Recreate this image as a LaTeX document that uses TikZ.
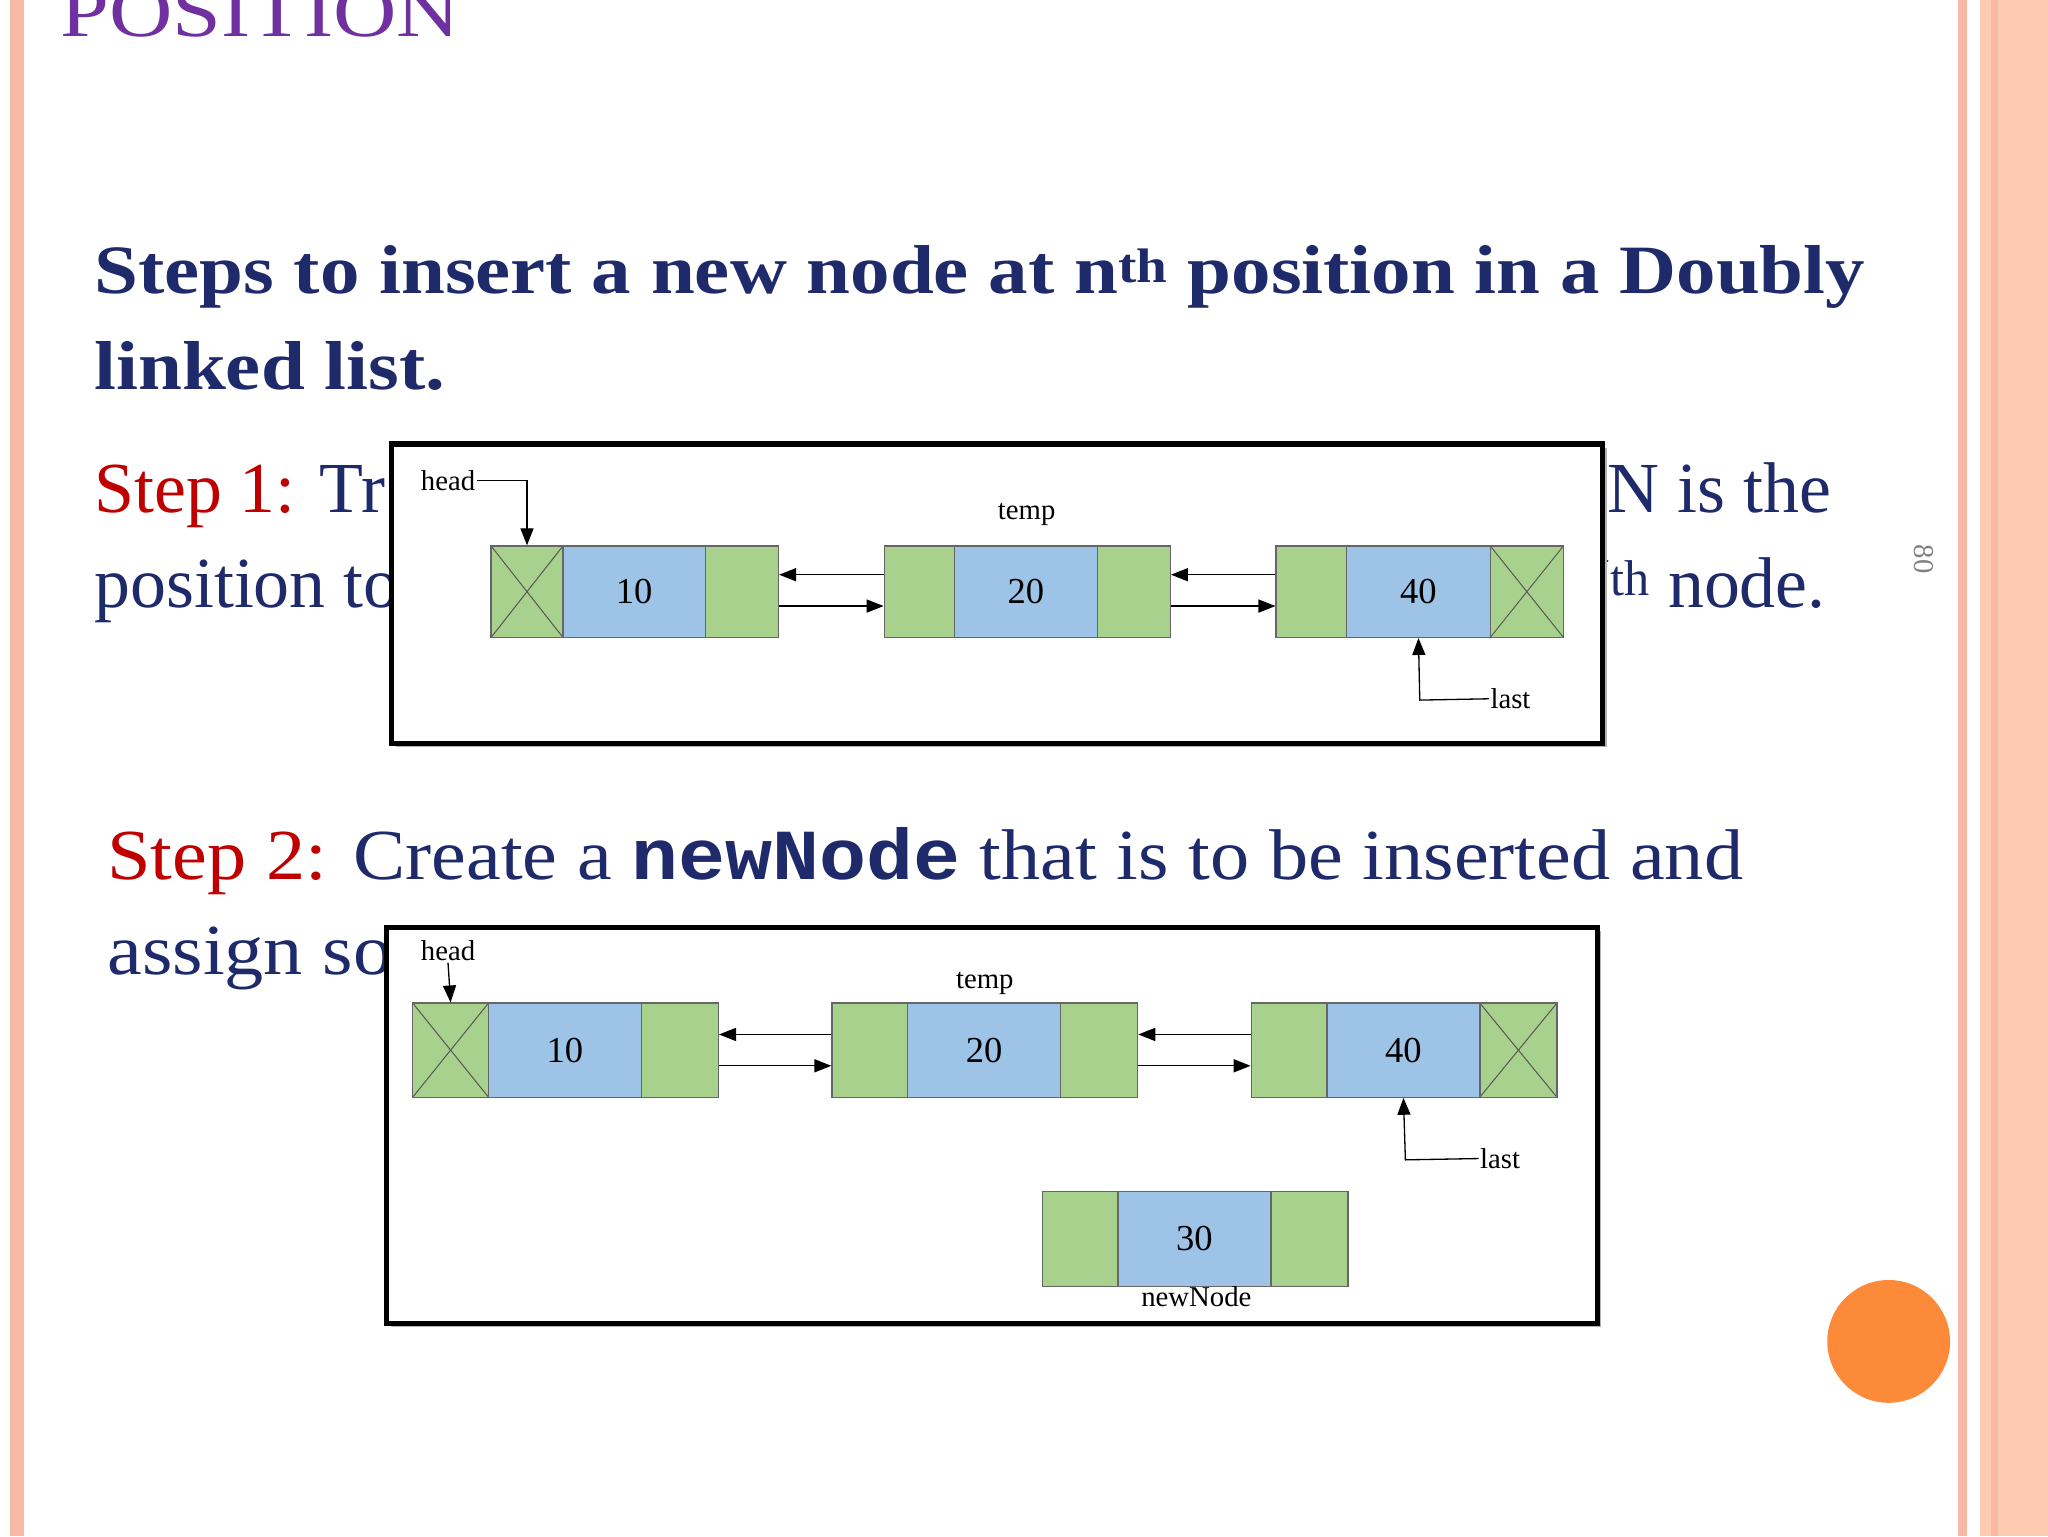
\documentclass[tikz,border=0pt]{standalone}
\usepackage{fontspec}
\setmainfont{Liberation Serif}
\setmonofont{Liberation Mono}
\usetikzlibrary{arrows.meta}
\definecolor{navy}{HTML}{1F2A6B}
\definecolor{redt}{HTML}{C00000}
\definecolor{purp}{HTML}{7030A0}
\definecolor{cg}{HTML}{A9D18E}
\definecolor{cb}{HTML}{9DC3E6}
\definecolor{sal}{HTML}{F7B9A3}
\definecolor{peach}{HTML}{FCCBB2}
\definecolor{orng}{HTML}{FD8A38}
\tikzset{
 gcell/.style={draw=gray!80!black,fill=cg,minimum height=70pt,inner sep=0pt,line width=1pt},
 bcell/.style={draw=gray!80!black,fill=cb,minimum height=70pt,inner sep=0pt,line width=1pt,font=\fontsize{28}{30}\selectfont},
 xcell/.style={gcell,path picture={\draw[gray!70!black,line width=0.8pt] (path picture bounding box.north west)--(path picture bounding box.south east) (path picture bounding box.south west)--(path picture bounding box.north east);}},
 lbl/.style={font=\fontsize{22}{24}\selectfont,inner sep=1pt},
 frame/.style={draw=black,line width=4pt,fill=white},
 ptr/.style={-{Triangle[length=13pt,width=10pt]},line width=1pt},
 body/.style={font=\fontsize{55}{60}\selectfont,text=navy,anchor=base west,inner sep=0pt},
}
\begin{document}
\begin{tikzpicture}[x=1pt,y=-1pt]
\useasboundingbox (0,0) rectangle (1568,1176);
\fill[white] (0,0) rectangle (1568,1176);
% borders
\fill[sal] (8,0) rectangle (18,1176);
\fill[sal] (1499,0) rectangle (1506,1176);
\fill[peach] (1516,0) rectangle (1568,1176);
\fill[sal] (1524,0) rectangle (1530,1176);
% title
\node[anchor=base west,inner sep=0pt,text=purp,font=\fontsize{56}{60}\selectfont,xscale=1.2] (title) at (46,28) {POSITION};
\node[anchor=base west,inner sep=0pt,text=navy,font=\bfseries\fontsize{53}{60}\selectfont,xscale=1.14] (h1) at (72,225) {Steps to insert a new node at n\textsuperscript{th} position in a Doubly};
\node[anchor=base west,inner sep=0pt,text=navy,font=\bfseries\fontsize{53}{60}\selectfont,xscale=1.14] (h2) at (72,298) {linked list.};
% step1 text
\node[body] (s1a) at (72,392) {\textcolor{redt}{Step 1:} Tr};
\node[body] (s1b) at (72,465) {position to};
\node[body,anchor=base east] (s1c) at (1402,392) {N is the};
\node[body,anchor=base east] (s1d) at (1398,465) {N\textsuperscript{th} node.};
% box1
\fill[gray!60] (303,343) rectangle (1230,572);
\node[frame,minimum width=927pt,minimum height=229pt,anchor=north west] (box1) at (298,338) {};
% list 1
\node[xcell,minimum width=55pt] (a1) at (403.5,453) {};
\node[bcell,minimum width=109pt] (a2) at (485.5,453) {10};
\node[gcell,minimum width=56pt] (a3) at (568,453) {};
\node[gcell,minimum width=54pt] (b1) at (704,453) {};
\node[bcell,minimum width=109pt] (b2) at (785.5,453) {20};
\node[gcell,minimum width=56pt] (b3) at (868,453) {};
\node[gcell,minimum width=54pt] (c1) at (1004,453) {};
\node[bcell,minimum width=110pt] (c2) at (1086,453) {40};
\node[xcell,minimum width=56pt] (c3) at (1169,453) {};
\draw[ptr] ([yshift=13pt]b1.west) -- ([yshift=13pt]a3.east);
\draw[ptr] ([yshift=-11pt]a3.east) -- ([yshift=-11pt]b1.west);
\draw[ptr] ([yshift=13pt]c1.west) -- ([yshift=13pt]b3.east);
\draw[ptr] ([yshift=-11pt]b3.east) -- ([yshift=-11pt]c1.west);
\node[lbl] (hd1) at (343,368) {head};
\draw[ptr] (hd1.east) -| (a1.north);
\node[lbl] (tp1) at (786,394) {temp};
\coordinate (l1c) at (1087,536);
\node[lbl,anchor=west] (ls1) at (1140,535) {last};
\draw[ptr] (ls1.west) -- (l1c) -- (c2.south);
% step2 text
\node[body,xscale=1.09] (s2a) at (82,673) {\textcolor{redt}{Step 2:} Create a {\ttfamily\bfseries newNode} that is to be inserted and};
\node[body,xscale=1.09] (s2b) at (82,746) {assign so};
% box2
\fill[gray!60] (299,713) rectangle (1226,1016);
\node[frame,minimum width=927pt,minimum height=303pt,anchor=north west] (box2) at (294,708) {};
\node[xcell,minimum width=58pt,minimum height=72pt] (d1) at (345,804) {};
\node[bcell,minimum width=117pt,minimum height=72pt] (d2) at (432.5,804) {10};
\node[gcell,minimum width=59pt,minimum height=72pt] (d3) at (520.5,804) {};
\node[gcell,minimum width=58pt,minimum height=72pt] (e1) at (666,804) {};
\node[bcell,minimum width=117pt,minimum height=72pt] (e2) at (753.5,804) {20};
\node[gcell,minimum width=59pt,minimum height=72pt] (e3) at (841.5,804) {};
\node[gcell,minimum width=58pt,minimum height=72pt] (f1) at (987,804) {};
\node[bcell,minimum width=117pt,minimum height=72pt] (f2) at (1074.5,804) {40};
\node[xcell,minimum width=59pt,minimum height=72pt] (f3) at (1162.5,804) {};
\draw[ptr] ([yshift=12pt]e1.west) -- ([yshift=12pt]d3.east);
\draw[ptr] ([yshift=-12pt]d3.east) -- ([yshift=-12pt]e1.west);
\draw[ptr] ([yshift=12pt]f1.west) -- ([yshift=12pt]e3.east);
\draw[ptr] ([yshift=-12pt]e3.east) -- ([yshift=-12pt]f1.west);
\node[lbl] (hd2) at (343,728) {head};
\draw[ptr] (hd2.south) -- (d1.north);
\node[lbl] (tp2) at (754,753) {temp};
\coordinate (l2c) at (1076,888);
\node[lbl,anchor=west] (ls2) at (1132,887) {last};
\draw[ptr] (ls2.west) -- (l2c) -- (f2.south);
\node[gcell,minimum width=58pt,minimum height=73pt] (g1) at (827,948.5) {};
\node[bcell,minimum width=117pt,minimum height=73pt] (g2) at (914.5,948.5) {30};
\node[gcell,minimum width=59pt,minimum height=73pt] (g3) at (1002.5,948.5) {};
\node[lbl] (nn) at (916,993) {newNode};
% page number and circle
\node[rotate=-90,text=gray,font=\fontsize{22}{24}\selectfont] (pg) at (1473,428) {80};
\node[circle,fill=orng,minimum size=94pt,inner sep=0pt] (dot) at (1446,1027) {};
\end{tikzpicture}
\end{document}
